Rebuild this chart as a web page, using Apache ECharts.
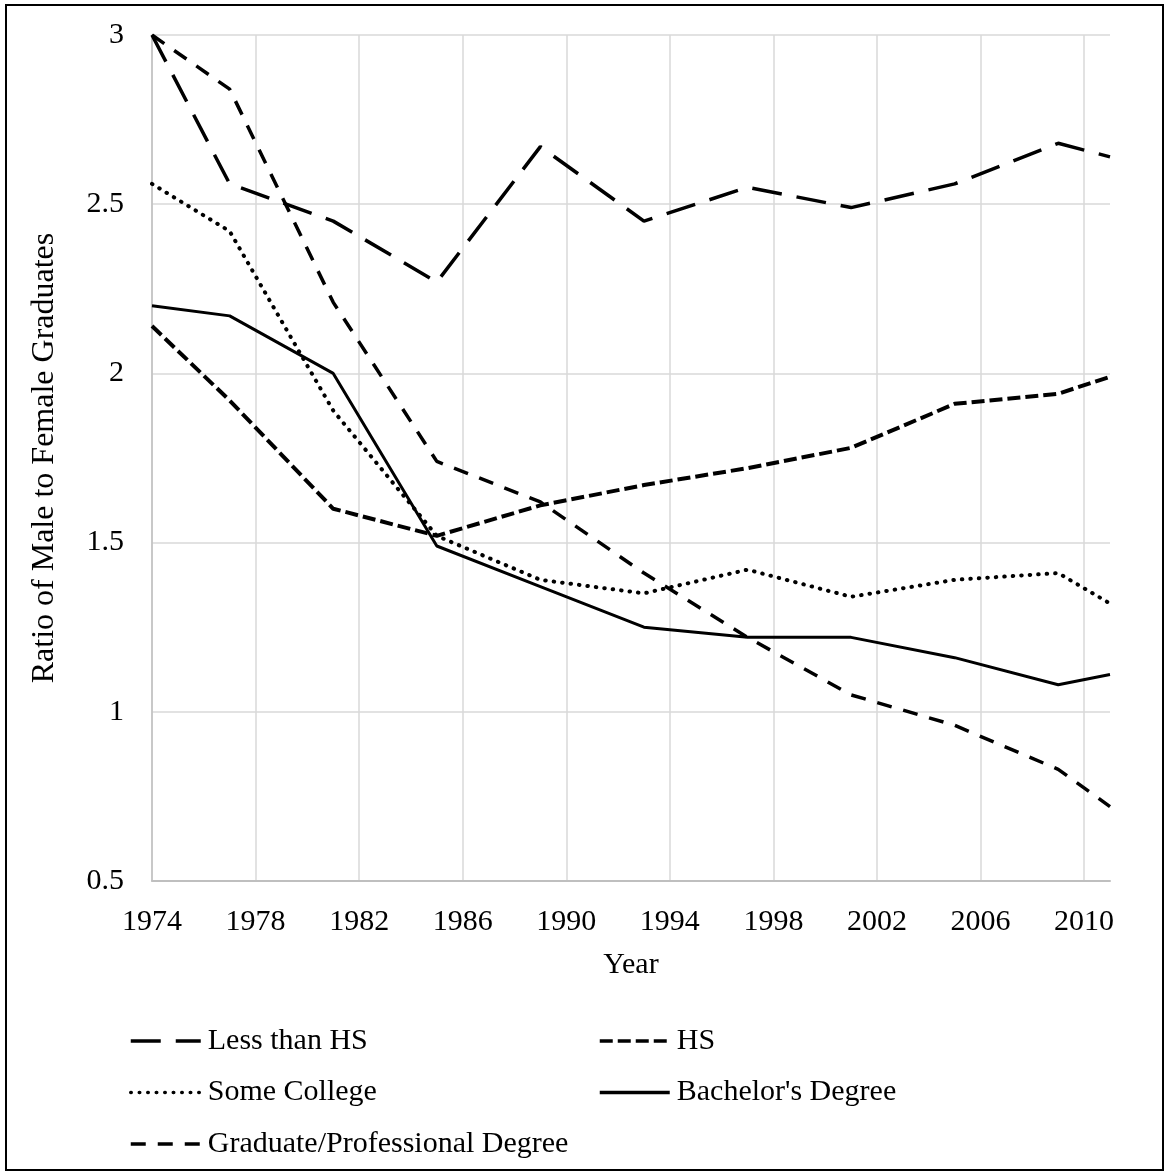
<!DOCTYPE html>
<html>
<head>
<meta charset="utf-8">
<script src="https://cdn.jsdelivr.net/npm/echarts@6/dist/echarts.min.js"></script>
<style>
  html, body { margin: 0; padding: 0; background: #fff; }
  #main { width: 1169px; height: 1175px; }
</style>
</head>
<body>
<div id="main"></div>
<script>
// survey years (x positions come from these)
var years = [1974, 1977, 1981, 1985, 1989, 1993, 1997, 2001, 2005, 2009, 2011];
var firstYear = 1974;

// ratio of male to female graduates
var lessThanHS  = [3.00, 2.56, 2.45, 2.27, 2.67, 2.45, 2.55, 2.49, 2.56, 2.68, 2.64];
var hs          = [2.14, 1.92, 1.60, 1.52, 1.61, 1.67, 1.72, 1.78, 1.91, 1.94, 1.99];
var someCollege = [2.56, 2.42, 1.89, 1.52, 1.39, 1.35, 1.42, 1.34, 1.39, 1.41, 1.32];
var bachelors   = [2.20, 2.17, 2.00, 1.49, 1.37, 1.25, 1.22, 1.22, 1.16, 1.08, 1.11];
var graduate    = [3.00, 2.84, 2.21, 1.74, 1.62, 1.41, 1.22, 1.05, 0.96, 0.83, 0.72];

var font = 'Liberation Serif';

function pts(vals) {
  return vals.map(function (v, i) { return [years[i] - firstYear, v]; });
}

function line(name, vals, style) {
  return {
    name: name,
    type: 'line',
    symbol: 'none',
    smooth: false,
    data: pts(vals),
    lineStyle: Object.assign({ color: '#000' }, style),
    itemStyle: { color: '#000' },
    emphasis: { disabled: true }
  };
}

var legendBase = {
  orient: 'vertical',
  padding: 0,
  itemWidth: 70,
  itemHeight: 14,
  itemGap: 21.5,
  textStyle: { fontFamily: font, fontSize: 30, color: '#000', lineHeight: 30, padding: [0, 0, 0, 2] },
  itemStyle: { opacity: 0, color: 'rgba(0,0,0,0)', borderWidth: 0 },
  lineStyle: { width: 3.5 }
};

var myChart = echarts.init(document.getElementById('main'), null, { renderer: 'canvas' });
myChart.setOption({
  animation: false,
  backgroundColor: '#fff',
  grid: { left: 152, right: 59, top: 35, bottom: 294, containLabel: false, outerBoundsMode: 'none' },
  xAxis: {
    type: 'value',
    min: 0,
    max: 37,
    interval: 4,
    name: 'Year',
    nameLocation: 'middle',
    nameGap: 69,
    nameTextStyle: { fontFamily: font, fontSize: 30, color: '#000' },
    axisLine: { show: true, lineStyle: { color: '#bfbfbf', width: 2 } },
    axisTick: { show: false },
    axisLabel: {
      fontFamily: font, fontSize: 30, color: '#000', margin: 26,
      showMaxLabel: false,
      formatter: function (v) { return String(v + firstYear); }
    },
    splitLine: { show: true, showMaxLine: false, lineStyle: { color: '#d9d9d9', width: 1.5 } }
  },
  yAxis: {
    type: 'value',
    min: 0.5,
    max: 3,
    interval: 0.5,
    name: 'Ratio of Male to Female Graduates',
    nameLocation: 'middle',
    nameGap: 91,
    nameTextStyle: { fontFamily: font, fontSize: 32, color: '#000' },
    axisLine: { show: true, lineStyle: { color: '#bfbfbf', width: 1.5 } },
    axisTick: { show: false },
    axisLabel: { fontFamily: font, fontSize: 30, color: '#000', margin: 28 },
    splitLine: { show: true, lineStyle: { color: '#d9d9d9', width: 1.5 } }
  },
  legend: [
    Object.assign({}, legendBase, {
      left: 129, top: 1026,
      data: ['Less than HS', 'Some College', 'Graduate/Professional Degree']
    }),
    Object.assign({}, legendBase, {
      left: 598, top: 1026,
      data: ['HS', "Bachelor's Degree"]
    })
  ],
  graphic: [{
    type: 'rect',
    shape: { x: 6, y: 5, width: 1157, height: 1165 },
    style: { fill: 'none', stroke: '#000', lineWidth: 2 },
    silent: true
  }],
  series: [
    line('Less than HS', lessThanHS, { width: 3.5, type: [30, 15] }),
    line('HS', hs, { width: 4, type: [13, 5] }),
    line('Some College', someCollege, { width: 4, type: [0.5, 8], cap: 'round' }),
    line("Bachelor's Degree", bachelors, { width: 3, type: 'solid' }),
    line('Graduate/Professional Degree', graduate, { width: 3.5, type: [15, 12] })
  ]
});
</script>
</body>
</html>
